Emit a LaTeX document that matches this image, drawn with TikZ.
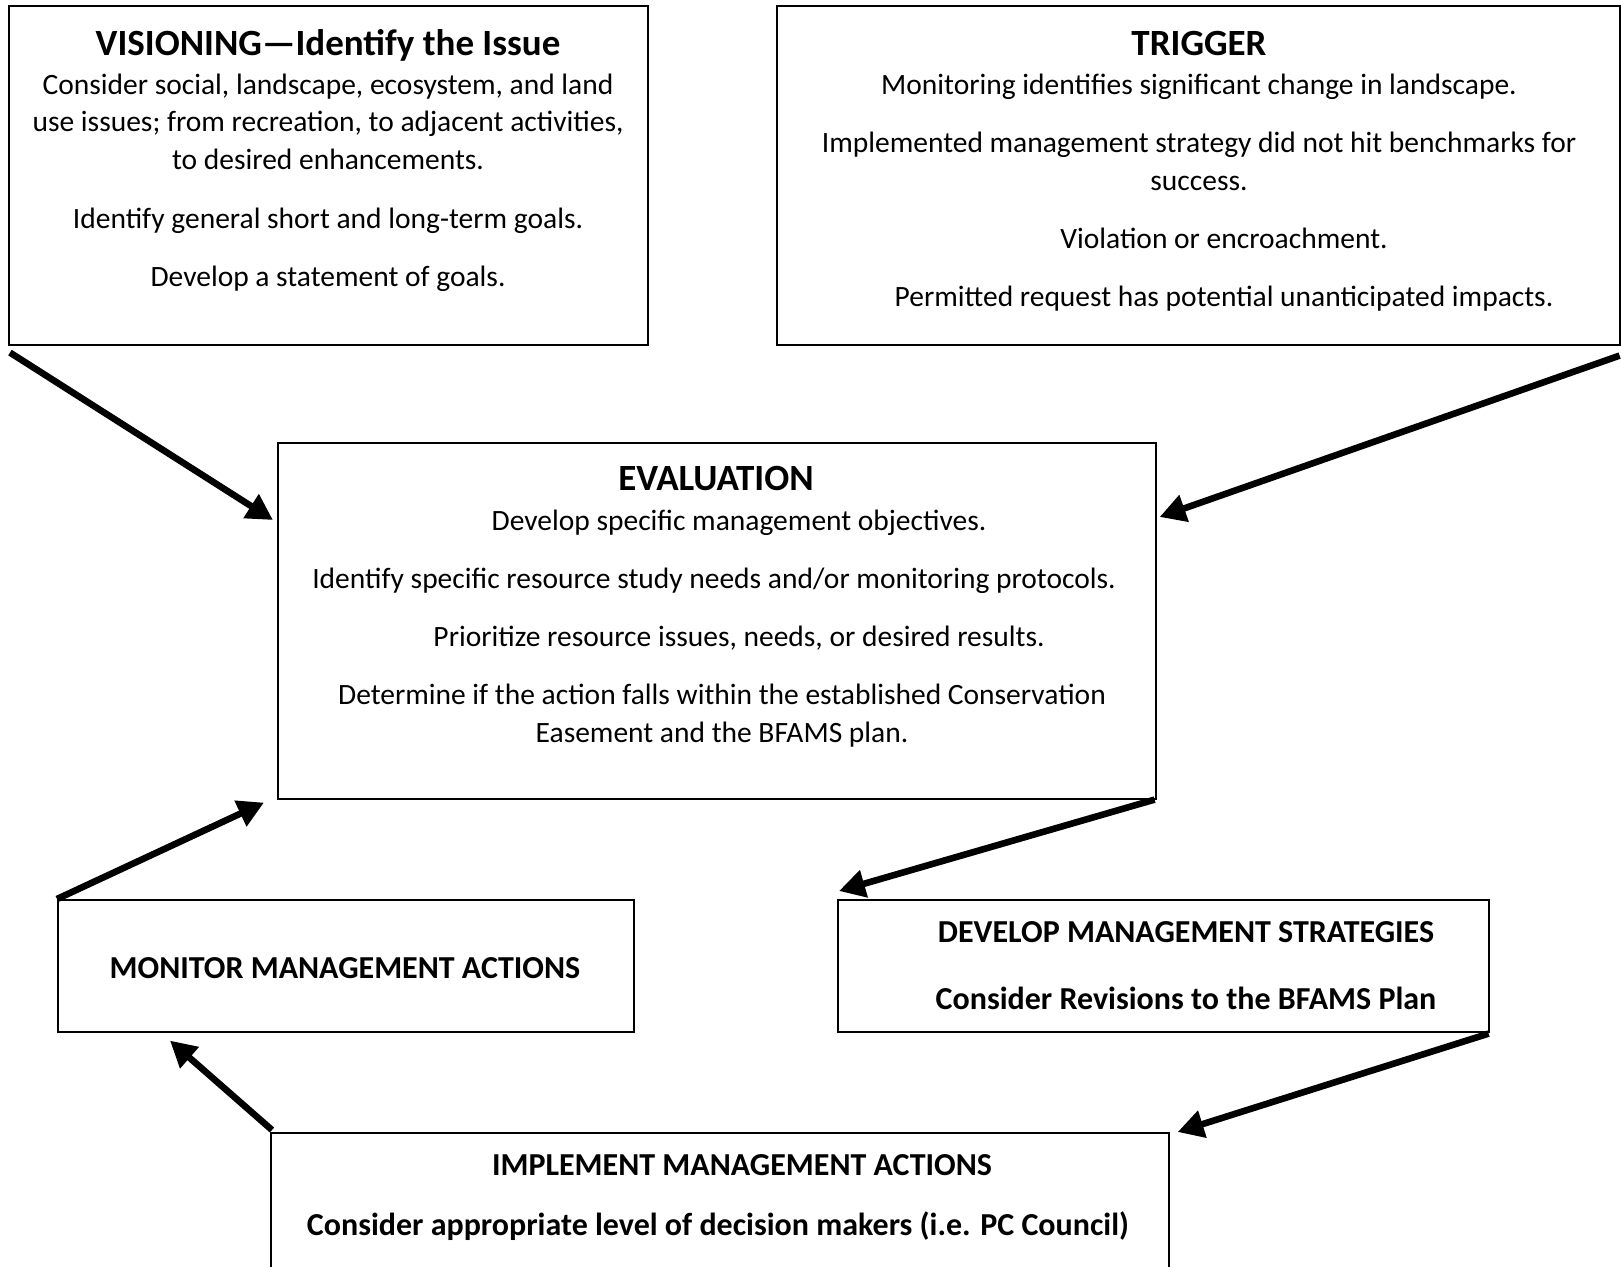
\documentclass[tikz,border=0pt]{standalone}
\usepackage{fontspec}
\setmainfont{Carlito}
\usetikzlibrary{arrows.meta,calc}
\begin{document}
\begin{tikzpicture}[x=1pt,y=-1pt,
  box/.style={draw, line width=1.6pt, inner sep=0pt, anchor=north west},
  bodytext/.style={anchor=base, inner sep=0pt, font=\fontsize{29.5}{34}\selectfont},
  titletext/.style={anchor=base, inner sep=0pt, font=\fontsize{37}{42}\selectfont\bfseries},
  boldtext/.style={anchor=base, inner sep=0pt, font=\fontsize{32}{36}\selectfont\bfseries},
  flow/.style={line width=6.6pt, -{Triangle[length=26pt,width=27pt]}}]
\useasboundingbox (0,0) rectangle (1621,1266);
\clip (0,0) rectangle (1621,1266);
% boxes
\node[box, minimum width=639pt, minimum height=339pt] (vis) at (8,5) {};
\node[box, minimum width=843pt, minimum height=339pt] (trig) at (776,5) {};
\node[box, minimum width=878pt, minimum height=356pt] (eval) at (277,442) {};
\node[box, minimum width=576pt, minimum height=132pt] (mon) at (57,899) {};
\node[box, minimum width=651pt, minimum height=132pt] (dev) at (837,899) {};
\node[box, minimum width=898pt, minimum height=158pt] (impl) at (270,1132) {};
% visioning text
\node[titletext] (visT) at (328,55) {VISIONING—Identify the Issue};
\node[bodytext] (vis1) at (328,94) {Consider social, landscape, ecosystem, and land};
\node[bodytext] (vis2) at (328,131) {use issues; from recreation, to adjacent activities,};
\node[bodytext] (vis3) at (328,169) {to desired enhancements.};
\node[bodytext] (vis4) at (328,228) {Identify general short and long-term goals.};
\node[bodytext] (vis5) at (328,286) {Develop a statement of goals.};
% trigger text
\node[titletext] (trigT) at (1199,55) {TRIGGER};
\node[bodytext] (trig1) at (1199,94) {Monitoring identifies significant change in landscape.};
\node[bodytext] (trig2) at (1199,152) {Implemented management strategy did not hit benchmarks for};
\node[bodytext] (trig3) at (1199,190) {success.};
\node[bodytext] (trig4) at (1224,248) {Violation or encroachment.};
\node[bodytext] (trig5) at (1224,306) {Permitted request has potential unanticipated impacts.};
% evaluation text
\node[titletext] (evalT) at (716,490) {EVALUATION};
\node[bodytext] (eval1) at (739,530) {Develop specific management objectives.};
\node[bodytext] (eval2) at (714,588) {Identify specific resource study needs and/or monitoring protocols.};
\node[bodytext] (eval3) at (739,646) {Prioritize resource issues, needs, or desired results.};
\node[bodytext] (eval4) at (722,704) {Determine if the action falls within the established Conservation};
\node[bodytext] (eval5) at (722,742) {Easement and the BFAMS plan.};
% lower boxes text
\node[boldtext] (monT) at (345,978) {MONITOR MANAGEMENT ACTIONS};
\node[boldtext] (devT) at (1186,942) {DEVELOP MANAGEMENT STRATEGIES};
\node[boldtext] (dev1) at (1186,1009) {Consider Revisions to the BFAMS Plan};
\node[boldtext] (implT) at (742,1175) {IMPLEMENT MANAGEMENT ACTIONS};
\node[boldtext] (impl1) at (718,1235) {Consider appropriate level of decision makers (i.e. PC Council)};
% arrows
\draw[flow] ($(vis.south west)+(2,7)$) -- ($(eval.north west)+(-4,78)$);
\draw[flow] ($(trig.south east)+(-1,10)$) -- ($(eval.north east)+(3,75)$);
\draw[flow] ($(eval.south east)+(-2,0)$) -- ($(dev.north west)+(2,-8)$);
\draw[flow] ($(dev.south east)+(-1,1)$) -- ($(impl.north east)+(8,0)$);
\draw[flow] ($(impl.north west)+(2,-2)$) -- ($(mon.south west)+(113,8)$);
\draw[flow] (mon.north west) -- ($(eval.south west)+(-13,3)$);
\end{tikzpicture}
\end{document}
